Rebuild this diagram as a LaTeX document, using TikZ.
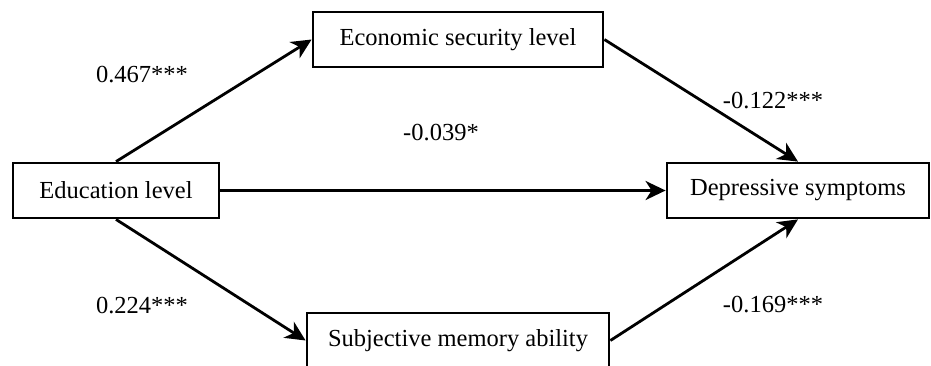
\documentclass[tikz,border=0pt]{standalone}
\usepackage{fontspec}
\setmainfont{Liberation Serif}
\usetikzlibrary{arrows.meta}
\begin{document}
\begin{tikzpicture}[x=1pt,y=-1pt,
  box/.style={draw=black,line width=2.8pt,rectangle,inner sep=0pt,minimum height=55pt,font=\fontsize{24.5}{28}\selectfont},
  conn/.style={line width=2.8pt,-{Stealth[length=20pt,width=19pt,inset=6pt]}},
  lab/.style={font=\fontsize{24.5}{28}\selectfont,inner sep=0pt}]
\useasboundingbox (0,0) rectangle (931,365);
\node[box,minimum width=206pt] (edu) at (116,190.5) {Education level};
\node[box,minimum width=290pt] (eco) at (458,39.5) {Economic security level};
\node[box,minimum width=302pt] (mem) at (458,340.5) {Subjective memory ability};
\node[box,minimum width=262pt] (dep) at (798,190.5) {Depressive symptoms};
\draw[conn] (edu.north) -- (eco.west);
\draw[conn] (eco.east) -- (dep.north);
\draw[conn] (edu.east) -- (dep.west);
\draw[conn] (edu.south) -- (mem.west);
\draw[conn] (mem.east) -- (dep.south);
\node[lab] (l1) at (142,75) {0.467***};
\node[lab] (l2) at (773,101) {-0.122***};
\node[lab] (l3) at (441,133) {-0.039*};
\node[lab] (l4) at (142,306) {0.224***};
\node[lab] (l5) at (773,305) {-0.169***};
\end{tikzpicture}
\end{document}
